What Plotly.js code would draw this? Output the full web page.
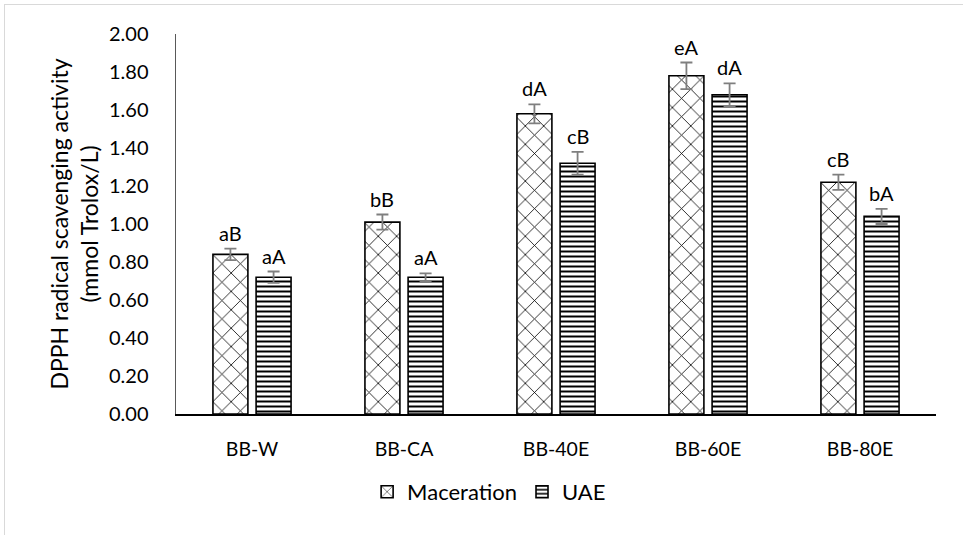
<!DOCTYPE html>
<html>
<head>
<meta charset="utf-8">
<script src="https://cdn.plot.ly/plotly-3.0.1.min.js"></script>
<style>
  html, body { margin: 0; padding: 0; background: #fff; }
  #wrap { position: relative; width: 963px; height: 535px; }
  #frame { position: absolute; left: 4px; top: 4px; right: -2px; bottom: -2px; border-top: 1.5px solid #d9d9d9; border-left: 1.5px solid #d9d9d9; pointer-events: none; z-index: 5; }
  #chart { position: absolute; left: 0; top: 0; width: 963px; height: 535px; }
</style>
</head>
<body>
<div id="wrap"><div id="chart"></div><div id="frame"></div></div>
<script>
const categories = ["BB-W", "BB-CA", "BB-40E", "BB-60E", "BB-80E"];
const macerationValues = [0.84, 1.01, 1.58, 1.78, 1.22];
const macerationErrors = [0.03, 0.04, 0.05, 0.07, 0.04];
const macerationLabels = ["aB", "bB", "dA", "eA", "cB"];
const uaeValues = [0.72, 0.72, 1.32, 1.68, 1.04];
const uaeErrors = [0.03, 0.02, 0.06, 0.06, 0.04];
const uaeLabels = ["aA", "aA", "cB", "dA", "bA"];
const yTicks = [0, 0.2, 0.4, 0.6, 0.8, 1.0, 1.2, 1.4, 1.6, 1.8, 2.0];

const FONT = "Lato, 'Open Sans', sans-serif";
const idx = categories.map((c, i) => i);
const barW = 0.23;
const gapHalf = 0.027;
const macOffset = -(barW + gapHalf);
const uaeOffset = gapHalf;

const errStyle = (arr) => ({ type: "data", array: arr, visible: true, color: "#7f7f7f", thickness: 1.8, width: 6 });

const traces = [
  {
    type: "bar", name: "Maceration", x: idx, y: macerationValues,
    width: barW, offset: macOffset,
    marker: { color: "#ffffff", line: { color: "#000000", width: 1.6 },
      pattern: { shape: "x", size: 13, solidity: 0.12, fgcolor: "#000000", bgcolor: "#ffffff" } },
    error_y: errStyle(macerationErrors), hoverinfo: "skip"
  },
  {
    type: "bar", name: "UAE", x: idx, y: uaeValues,
    width: barW, offset: uaeOffset,
    marker: { color: "#ffffff", line: { color: "#000000", width: 1.6 },
      pattern: { shape: "-", size: 5, solidity: 0.4, fgcolor: "#000000", bgcolor: "#ffffff" } },
    error_y: errStyle(uaeErrors), hoverinfo: "skip"
  }
];

const annotations = [];
idx.forEach(i => {
  annotations.push({ x: i + macOffset + barW / 2, y: macerationValues[i] + macerationErrors[i], xref: "x", yref: "y",
    text: macerationLabels[i], showarrow: false, yanchor: "bottom", yshift: 2, font: { family: FONT, size: 20, color: "#000" } });
  annotations.push({ x: i + uaeOffset + barW / 2, y: uaeValues[i] + uaeErrors[i], xref: "x", yref: "y",
    text: uaeLabels[i], showarrow: false, yanchor: "bottom", yshift: 2, font: { family: FONT, size: 20, color: "#000" } });
});

const layout = {
  width: 963, height: 535,
  margin: { l: 176, r: 27, t: 34, b: 121 },
  paper_bgcolor: "#ffffff", plot_bgcolor: "#ffffff",
  font: { family: FONT, size: 19, color: "#000" },
  showlegend: true,
  legend: { orientation: "h", x: 0.412, xanchor: "center", y: -0.205, yanchor: "middle",
    font: { family: FONT, size: 22, color: "#000" }, itemwidth: 30, tracegroupgap: 0 },
  xaxis: {
    range: [-0.5, 4.5], tickvals: idx, ticktext: categories, showgrid: false, zeroline: false,
    showline: true, linecolor: "#000000", linewidth: 2.2, ticks: "", ticklabelstandoff: 16,
    tickfont: { family: FONT, size: 19.5, color: "#000" }, fixedrange: true
  },
  yaxis: {
    range: [0, 2], tickvals: yTicks, tickformat: ".2f", showgrid: false, zeroline: false,
    showline: true, linecolor: "#595959", linewidth: 1.5, ticks: "", ticklabelstandoff: 22,
    tickfont: { family: FONT, size: 20, color: "#000" },
    title: { text: "DPPH radical scavenging activity<br>(mmol Trolox/L)", font: { family: FONT, size: 23, color: "#000" }, standoff: 4 },
    fixedrange: true
  },
  annotations: annotations
};

Plotly.newPlot("chart", traces, layout, { staticPlot: true, displayModeBar: false });
</script>
</body>
</html>
